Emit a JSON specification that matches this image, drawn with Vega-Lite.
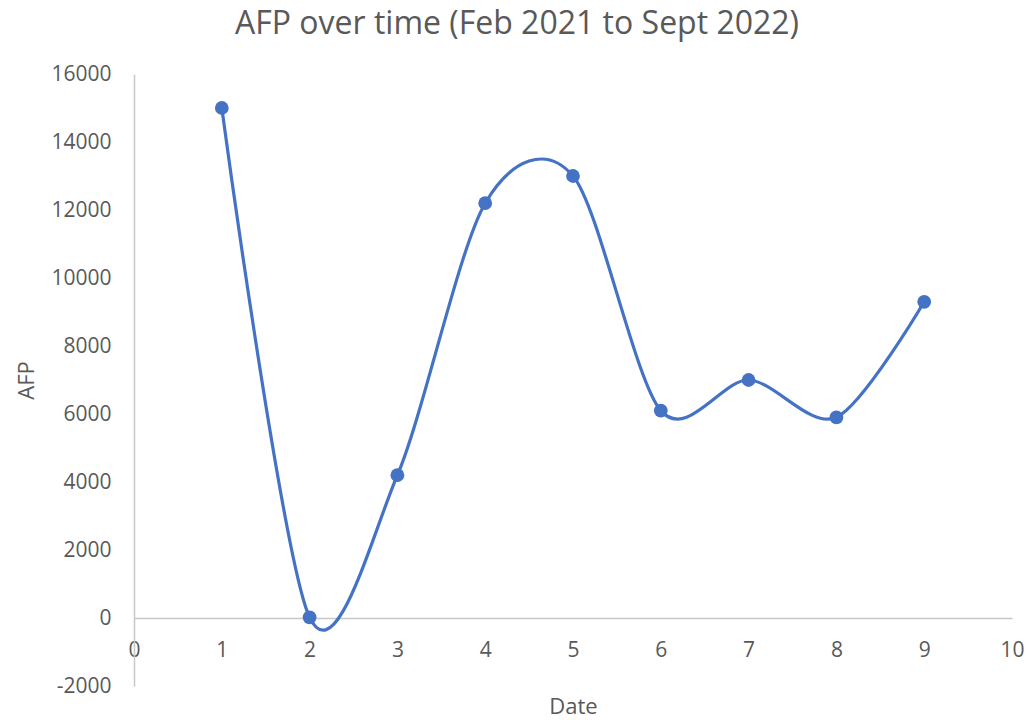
{
  "$schema": "https://vega.github.io/schema/vega-lite/v6.json",
  "width": 878,
  "height": 612,
  "autosize": "none",
  "padding": {"left": 134, "top": 74, "right": 18, "bottom": 34},
  "background": "white",
  "config": {"view": {"stroke": null}, "font": "Open Sans"},
  "title": {"text": "AFP over time (Feb 2021 to Sept 2022)", "anchor": "middle", "frame": "group", "dx": -56, "fontSize": 32, "fontWeight": "normal", "color": "#595959", "offset": 22},
  "data": {"values": [
    {"Date": 1, "AFP": 15000},
    {"Date": 2, "AFP": 20},
    {"Date": 3, "AFP": 4200},
    {"Date": 4, "AFP": 12200},
    {"Date": 5, "AFP": 13000},
    {"Date": 6, "AFP": 6100},
    {"Date": 7, "AFP": 7000},
    {"Date": 8, "AFP": 5900},
    {"Date": 9, "AFP": 9300}
  ]},
  "encoding": {
    "x": {"field": "Date", "type": "quantitative", "scale": {"domain": [0, 10], "nice": false, "zero": false},
      "axis": {"values": [0,1,2,3,4,5,6,7,8,9,10], "grid": false, "ticks": false, "offset": -68, "labelPadding": 21, "labelFontSize": 21, "labelColor": "#595959", "domainColor": "#c8c8c8", "domainWidth": 1.5, "title": "Date", "titleFontSize": 22, "titleFontWeight": "normal", "titleColor": "#595959", "titleY": 88, "titleBaseline": "middle", "labelFlush": false}},
    "y": {"field": "AFP", "type": "quantitative", "scale": {"domain": [-2000, 16000], "nice": false, "zero": false},
      "axis": {"values": [-2000,0,2000,4000,6000,8000,10000,12000,14000,16000], "grid": false, "ticks": false, "labelPadding": 23, "labelFontSize": 21, "labelColor": "#595959", "domainColor": "#c8c8c8", "domainWidth": 1.5, "title": "AFP", "titleFontSize": 22, "titleFontWeight": "normal", "titleColor": "#595959", "titlePadding": 12, "labelExpr": "'' + datum.value"}}
  },
  "layer": [
    {"mark": {"type": "line", "interpolate": "cardinal", "tension": 0.1, "color": "#4472C4", "strokeWidth": 3.2}},
    {"mark": {"type": "point", "filled": true, "opacity": 1, "color": "#4472C4", "size": 190}}
  ]
}
